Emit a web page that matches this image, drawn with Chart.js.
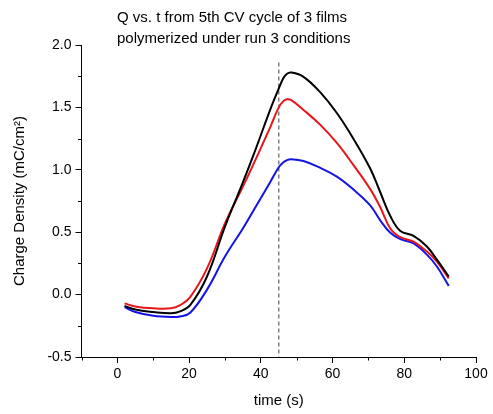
<!DOCTYPE html>
<html>
<head>
<meta charset="utf-8">
<script src="https://cdn.jsdelivr.net/npm/chart.js@4"></script>
<style>
html,body{margin:0;padding:0;background:#fff;}
#wrap{width:493px;height:414px;}
</style>
</head>
<body>
<div id="wrap"><canvas id="c" width="493" height="414"></canvas></div>
<script>
// ---- data ----
const titleLines = ["Q vs. t from 5th CV cycle of 3 films", "polymerized under run 3 conditions"];
const xAxisTitle = "time (s)";
const yAxisTitle = "Charge Density (mC/cm\u00B2)";

const time = [2, 5, 10, 15, 17.5, 20.3, 25, 30, 35, 38.5, 42.6, 45, 46.3, 47.3, 48.4, 51.9, 56.6, 61.2, 65.9, 70.5, 73.3, 76.1, 78.9, 82.6, 86.3, 89.1, 92.4];
const qBlack = [-0.09, -0.12, -0.14, -0.15, -0.135, -0.085, 0.145, 0.545, 0.9, 1.16, 1.48, 1.65, 1.735, 1.77, 1.78, 1.745, 1.62, 1.455, 1.245, 1.01, 0.82, 0.63, 0.51, 0.47, 0.385, 0.28, 0.145];
const qRed   = [-0.07, -0.095, -0.11, -0.11, -0.085, -0.02, 0.21, 0.57, 0.865, 1.08, 1.34, 1.5, 1.55, 1.565, 1.56, 1.48, 1.36, 1.215, 1.035, 0.845, 0.7, 0.53, 0.46, 0.425, 0.345, 0.265, 0.13];
const qBlue  = [-0.10, -0.14, -0.17, -0.18, -0.175, -0.145, 0.04, 0.305, 0.53, 0.70, 0.9, 1.02, 1.06, 1.078, 1.085, 1.07, 1.015, 0.945, 0.84, 0.715, 0.595, 0.495, 0.445, 0.41, 0.32, 0.225, 0.07];

const markerTime = [45, 45];
const markerQ = [1.86, -0.5];

const xMajorTicks = [0, 20, 40, 60, 80, 100];
const xMinorTicks = [-10, 10, 30, 50, 70, 90];
const yMajorTicks = [-0.5, 0, 0.5, 1.0, 1.5, 2.0];
const yMinorTicks = [-0.25, 0.25, 0.75, 1.25, 1.75];

const toPts = (xs, ys) => xs.map((x, i) => ({x: x, y: ys[i]}));

const FONT = '"Liberation Sans", Arial, "DejaVu Sans", sans-serif';

const decor = {
  id: 'decor',
  afterDraw(chart) {
    const ctx = chart.ctx;
    const xs = chart.scales.x, ys = chart.scales.y;
    const area = chart.chartArea;
    ctx.save();
    ctx.strokeStyle = '#000';
    ctx.lineWidth = 1;
    ctx.beginPath();
    xMinorTicks.forEach(v => {
      const p = Math.round(xs.getPixelForValue(v)) + 0.5;
      ctx.moveTo(p, area.bottom);
      ctx.lineTo(p, area.bottom + 3.5);
    });
    yMinorTicks.forEach(v => {
      const p = Math.round(ys.getPixelForValue(v)) + 0.5;
      ctx.moveTo(area.left - 3.5, p);
      ctx.lineTo(area.left, p);
    });
    ctx.stroke();
    ctx.fillStyle = '#000';
    ctx.font = '15px ' + FONT;
    ctx.textAlign = 'left';
    ctx.textBaseline = 'alphabetic';
    ctx.fillText(titleLines[0], 117, 22);
    ctx.fillText(titleLines[1], 117, 43);
    ctx.textAlign = 'center';
    ctx.fillText(xAxisTitle, (area.left + area.right) / 2, 405);
    ctx.translate(23.5, (area.top + area.bottom) / 2);
    ctx.rotate(-Math.PI / 2);
    ctx.fillText(yAxisTitle, 0, 0);
    ctx.restore();
  }
};

const lineStyle = {borderWidth: 2, pointRadius: 0, tension: 0.4, fill: false};

new Chart(document.getElementById('c'), {
  type: 'line',
  data: {
    datasets: [
      Object.assign({data: toPts(time, qBlack), borderColor: '#000000'}, lineStyle),
      Object.assign({data: toPts(time, qRed), borderColor: '#e8161b'}, lineStyle),
      Object.assign({data: toPts(time, qBlue), borderColor: '#1414e6'}, lineStyle),
      {data: toPts(markerTime, markerQ), borderColor: '#808080', borderWidth: 1.5, borderDash: [4, 3], pointRadius: 0, fill: false}
    ]
  },
  options: {
    responsive: false,
    animation: false,
    devicePixelRatio: 1,
    layout: {padding: {left: 0, top: 45, right: 17, bottom: 0}},
    plugins: {legend: {display: false}, tooltip: {enabled: false}, title: {display: false}},
    scales: {
      x: {
        type: 'linear', min: -10, max: 100,
        afterFit: s => { s.height = 57; },
        afterBuildTicks: s => { s.ticks = xMajorTicks.map(v => ({value: v})); },
        grid: {display: true, drawOnChartArea: false, drawTicks: true, tickLength: 6, tickColor: '#000', tickWidth: 1},
        border: {display: true, color: '#000', width: 1},
        ticks: {color: '#000', font: {family: FONT, size: 14}, padding: 3, maxRotation: 0, autoSkip: false, callback: v => String(v)}
      },
      y: {
        type: 'linear', min: -0.5, max: 2.0,
        afterFit: s => { s.width = 81.5; },
        afterBuildTicks: s => { s.ticks = yMajorTicks.map(v => ({value: v})); },
        grid: {display: true, drawOnChartArea: false, drawTicks: true, tickLength: 6, tickColor: '#000', tickWidth: 1},
        border: {display: true, color: '#000', width: 1},
        ticks: {color: '#000', font: {family: FONT, size: 14}, padding: 4, autoSkip: false, callback: v => Number(v).toFixed(1)}
      }
    }
  },
  plugins: [decor]
});
</script>
</body>
</html>
